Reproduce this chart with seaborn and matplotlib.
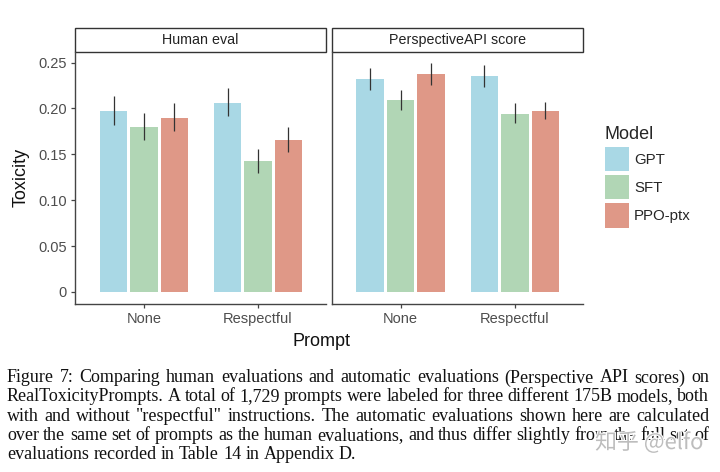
import math
import matplotlib
matplotlib.use('Agg')
import matplotlib.pyplot as plt
import matplotlib.patheffects as pe
from matplotlib.patches import Patch, Rectangle
import pandas as pd
import seaborn as sns

panels = ['Human eval', 'PerspectiveAPI score']
prompts = ['None', 'Respectful']
models = ['GPT', 'SFT', 'PPO-ptx']
colors = ['#A9D8E5', '#B1D6B5', '#DF9887']

# order: panel, prompt, model
panel_col = [panels[0]] * 6 + [panels[1]] * 6
prompt_col = (['None'] * 3 + ['Respectful'] * 3) * 2
model_col = models * 4
toxicity = [0.197, 0.180, 0.190, 0.206, 0.143, 0.166,
            0.232, 0.209, 0.237, 0.235, 0.194, 0.197]
err_low = [0.182, 0.166, 0.175, 0.192, 0.130, 0.153,
           0.220, 0.198, 0.225, 0.223, 0.184, 0.188]
err_high = [0.213, 0.195, 0.206, 0.222, 0.156, 0.180,
            0.244, 0.220, 0.249, 0.247, 0.206, 0.207]

caption = [
    'Figure 7: Comparing human evaluations and automatic evaluations (Perspective API scores) on',
    'RealToxicityPrompts. A total of 1,729 prompts were labeled for three different 175B models, both',
    'with and without "respectful" instructions. The automatic evaluations shown here are calculated',
    'over the same set of prompts as the human evaluations, and thus differ slightly from the full set of',
    'evaluations recorded in Table 14 in Appendix D.',
]

df = pd.DataFrame({'Panel': panel_col, 'Prompt': prompt_col, 'Model': model_col,
                   'Toxicity': toxicity, 'low': err_low, 'high': err_high})

sns.set_theme(style='white')
plt.rcParams['font.family'] = ['Liberation Sans', 'DejaVu Sans']
gray = '#4d4d4d'
line = '#444444'

g = sns.catplot(data=df, kind='bar', x='Prompt', y='Toxicity', hue='Model', col='Panel',
                order=prompts, hue_order=models, col_order=panels, palette=colors,
                width=0.8, gap=0.1, errorbar=None, saturation=1, legend=False, linewidth=0,
                height=4.72, aspect=0.76)
fig = g.figure
fig.set_size_inches(7.2, 4.72)

W, H = 720, 472
boxes = [(75, 326), (331.5, 583)]
top, bottom = 51.5, 304

for ax, panel, (x0, x1) in zip(g.axes.flat, panels, boxes):
    ax.set_position([x0 / W, 1 - bottom / H, (x1 - x0) / W, (bottom - top) / H])
    ax.set_xlim(-0.605, 1.596)
    ax.set_ylim(-0.0131, 0.262)
    ax.set_title('')
    ax.set_xlabel('')
    ax.set_ylabel('')

    sub = df[df['Panel'] == panel]
    for cont, model in zip(ax.containers, models):
        rows = sub[sub['Model'] == model].set_index('Prompt').loc[prompts]
        for bar, (_, row) in zip(cont.patches, rows.iterrows()):
            xc = bar.get_x() + bar.get_width() / 2
            ax.vlines(xc, row['low'], row['high'], color='#333333', lw=0.9, zorder=5)

    for s in ['top', 'right']:
        ax.spines[s].set_visible(False)
    for s in ['left', 'bottom']:
        ax.spines[s].set_color(line)
        ax.spines[s].set_linewidth(1.0)

    ax.tick_params(axis='x', bottom=True, length=3, width=0.9, color=line,
                   labelsize=10.5, labelcolor=gray, pad=3)
    ax.add_patch(Rectangle((0, 1), 1, 23.5 / (bottom - top), transform=ax.transAxes,
                           fc='white', ec='#333333', lw=1.0, clip_on=False))
    ax.text(0.5, 1 + 11.5 / (bottom - top), panel, transform=ax.transAxes,
            ha='center', va='center', fontsize=10.3, color='#222222')

left, right = g.axes.flat
left.set_yticks([0, 0.05, 0.10, 0.15, 0.20, 0.25])
left.set_yticklabels(['0', '0.05', '0.10', '0.15', '0.20', '0.25'])
left.tick_params(axis='y', left=True, length=3, width=0.9, color=line,
                 labelsize=10.5, labelcolor=gray, pad=3)
right.tick_params(axis='y', left=False, labelleft=False)

fig.text(21.5 / W, 1 - 177 / H, 'Toxicity', rotation=90, ha='center', va='center',
         fontsize=13, color='#111111')
fig.text(321 / W, 1 - 341.5 / H, 'Prompt', ha='center', va='center', fontsize=13, color='#111111')

handles = [Patch(fc=c, ec='none', label=m) for c, m in zip(colors, models)]
fig.legend(handles=handles, title='Model', loc='upper left', bbox_to_anchor=(605 / W, 1 - 126 / H),
           frameon=False, fontsize=10.8, title_fontsize=13, handlelength=1.63, handleheight=2.135,
           labelspacing=0.25, handletextpad=0.3, borderpad=0, borderaxespad=0,
           alignment='left')

# caption lines are justified to the right edge, word by word
renderer = fig.canvas.get_renderer()
cap_left, cap_right = 7, 709
baselines = [382, 401, 421, 440, 459]
for i, text in enumerate(caption):
    words = text.split(' ')
    items = [fig.text(0, 0.5, w, ha='left', va='baseline', fontsize=13,
                      family='Liberation Serif', color='#111111') for w in words]
    widths = [t.get_window_extent(renderer).width for t in items]
    probe = fig.text(0, 0.5, text, fontsize=13, family='Liberation Serif')
    natural = probe.get_window_extent(renderer).width
    probe.remove()
    space = (natural - sum(widths)) / (len(words) - 1)
    if i < len(caption) - 1:
        space = (cap_right - cap_left - sum(widths)) / (len(words) - 1)
    x = cap_left
    for t, wd, word in zip(items, widths, words):
        t.set_x(x / W)
        # cancel agg's rounding of each word's descent so the baseline stays level
        _, _, d = renderer.get_text_width_height_descent(word, t.get_fontproperties(), False)
        t.set_y(1 - (baselines[i] + math.ceil(d) - d) / H)
        x += wd + space

fig.text(595 / W, 1 - 443 / H, '知乎 @elfo', ha='left', va='center', fontsize=15.8,
         color='#bdbdbd', family=['Noto Sans CJK SC', 'DejaVu Sans'],
         path_effects=[pe.withStroke(linewidth=1.5, foreground='white')])

fig.savefig('out.png', dpi=100)
